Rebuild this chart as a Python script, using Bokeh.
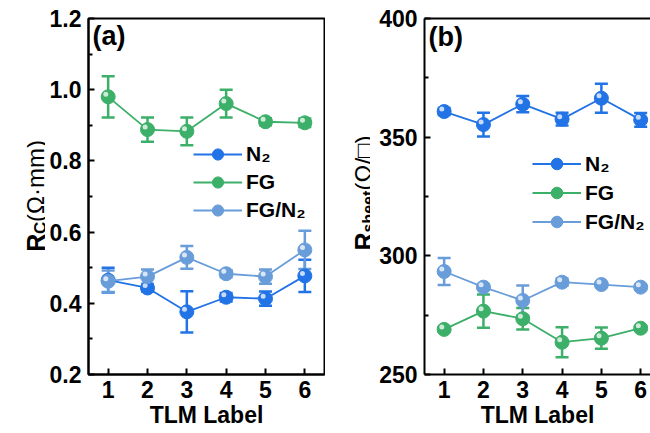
from math import pi

from bokeh.core.properties import value
from bokeh.embed import file_html
from bokeh.layouts import row
from bokeh.models import (ColumnDataSource, FixedTicker, Label, Legend, LegendItem,
                          LinearAxis, NumeralTickFormatter, TeeHead, Whisker)
from bokeh.plotting import figure
from bokeh.resources import INLINE
from bokeh.transform import dodge

# ---- data -----------------------------------------------------------------
tlm = [1, 2, 3, 4, 5, 6]

# contact resistance Rc (ohm*mm)
rc_n2 = [0.465, 0.443, 0.376, 0.417, 0.413, 0.477]
rc_n2_err = [0.035, 0.010, 0.058, 0.012, 0.020, 0.045]
rc_fg = [0.980, 0.888, 0.883, 0.961, 0.910, 0.907]
rc_fg_err = [0.058, 0.034, 0.039, 0.039, 0.010, 0.012]
rc_fgn2 = [0.462, 0.475, 0.529, 0.483, 0.475, 0.550]
rc_fgn2_err = [0.030, 0.020, 0.032, 0.010, 0.020, 0.054]

# sheet resistance (ohm/sq)
rs_n2 = [360.8, 355.3, 363.9, 357.6, 366.4, 357.3]
rs_n2_err = [1.5, 5.0, 3.4, 2.7, 6.1, 2.9]
rs_fg = [269.0, 276.7, 273.5, 263.6, 265.3, 269.5]
rs_fg_err = [1.0, 7.0, 4.5, 6.3, 4.5, 1.0]
rs_fgn2 = [293.4, 286.8, 281.2, 288.9, 287.9, 286.8]
rs_fgn2_err = [5.7, 1.0, 6.3, 1.5, 1.0, 1.0]

series_names = ["N\u2082", "FG", "FG/N\u2082"]
colors = ["#2173e6", "#3caf69", "#699dda"]

FONT = "Liberation Sans"


def style_axes(p, yticks, yminor, yfmt):
    xax = p.below[0]
    yax = p.left[0]
    xax.ticker = FixedTicker(ticks=tlm, minor_ticks=[])
    yax.ticker = FixedTicker(ticks=yticks, minor_ticks=yminor)
    yax.formatter = NumeralTickFormatter(format=yfmt)
    for ax in (xax, yax):
        ax.axis_line_width = 2
        ax.axis_line_color = "black"
        ax.major_tick_in = 6
        ax.major_tick_out = 0
        ax.minor_tick_in = 4
        ax.minor_tick_out = 0
        ax.major_tick_line_width = 2
        ax.minor_tick_line_width = 2
        ax.major_label_text_font = FONT
        ax.major_label_text_font_style = "bold"
        ax.major_label_text_font_size = "23px"
        ax.major_label_text_color = "black"
    yax.major_label_standoff = 7
    xax.major_label_standoff = 6
    xax.axis_label = "TLM Label"
    xax.axis_label_text_font = FONT
    xax.axis_label_text_font_style = "bold"
    xax.axis_label_text_font_size = "23px"
    xax.axis_label_text_color = "black"
    xax.axis_label_standoff = 1
    p.xgrid.visible = False
    p.ygrid.visible = False


def add_series(p, vals, errs, color, hl_dx, hl_dy):
    lower = [v - e for v, e in zip(vals, errs)]
    upper = [v + e for v, e in zip(vals, errs)]
    src = ColumnDataSource(dict(x=tlm, y=vals, lower=lower, upper=upper))
    wh = Whisker(base="x", lower="lower", upper="upper", source=src,
                 line_color=color, line_width=2.5,
                 upper_head=TeeHead(size=13, line_color=color, line_width=2.5),
                 lower_head=TeeHead(size=13, line_color=color, line_width=2.5))
    p.add_layout(wh)
    ln = p.line("x", "y", source=src, line_color=color, line_width=1.8)
    sc = p.scatter("x", "y", source=src, size=14, fill_color=color,
                   line_color=color, line_width=1)
    # small specular spot to give the markers a shaded look
    p.scatter(dodge("x", hl_dx), dodge("y", hl_dy), source=src, size=5,
              fill_color="white", fill_alpha=0.75, line_color=None)
    return [ln, sc]


def add_legend(p, renderer_sets, loc, gh):
    items = [LegendItem(label=n, renderers=r) for n, r in zip(series_names, renderer_sets)]
    lg = Legend(items=items, location=loc, border_line_color=None,
                background_fill_alpha=0, padding=0, margin=0, spacing=0,
                glyph_width=49, glyph_height=gh, label_height=gh, label_standoff=4,
                label_text_font=FONT, label_text_font_style="bold",
                label_text_font_size="21px", label_text_color="black")
    p.add_layout(lg)


def title_strip(width, border_bottom, frame_h, parts, use_label):
    """Narrow axis-free figure that carries a rotated, mixed-style y title.
    Its frame is measured in pixels so the pieces can be placed directly."""
    s = figure(width=width, height=433, x_range=(0, width), y_range=(0, frame_h),
               x_axis_type=None, y_axis_type=None, output_backend="svg",
               toolbar_location=None, min_border_left=0, min_border_right=0,
               min_border_top=18, min_border_bottom=border_bottom)
    s.outline_line_color = None
    s.xgrid.visible = False
    s.ygrid.visible = False
    for text, size, style, x, y in parts:
        if use_label:
            s.add_layout(Label(x=x, y=y, text=text, angle=90, angle_units="deg",
                               text_font=FONT, text_font_size=size, text_font_style=style,
                               text_color="black", text_align="left",
                               text_baseline="alphabetic"))
        else:
            s.text(x=[x], y=[y], text=[text], angle=90, angle_units="deg",
                   text_font=value(FONT), text_font_size=value(size),
                   text_font_style=style, text_color="black",
                   text_align="left", text_baseline="alphabetic")
    return s


# ---- panel (a): contact resistance ---------------------------------------
sa = title_strip(45, 58, 357, [("R", "25px", "bold", 35, 123),
                               ("C", "17px", "bold", 40, 141),
                               ("(\u03a9\u00b7mm)", "24px", "normal", 35, 153)], True)

pa = figure(width=280, height=433, x_range=(0.5, 6.5), y_range=(0.2, 1.2),
            output_backend="svg", toolbar_location=None,
            min_border_left=43, min_border_right=1, min_border_top=18,
            min_border_bottom=58)
pa.outline_line_color = "black"
pa.outline_line_width = 2
pa.outline_line_alpha = 1
style_axes(pa, [0.2, 0.4, 0.6, 0.8, 1.0, 1.2], [0.3, 0.5, 0.7, 0.9, 1.1], "0.0")

ra = [add_series(pa, v, e, c, -0.06, 0.007)
      for v, e, c in zip([rc_n2, rc_fg, rc_fgn2], [rc_n2_err, rc_fg_err, rc_fgn2_err], colors)]
add_legend(pa, ra, (105, 150), 28)
pa.add_layout(Label(x=4, y=324, x_units="screen", y_units="screen", text="(a)",
                    text_font=FONT, text_font_size="27px", text_font_style="bold",
                    text_color="black"))

# ---- panel (b): sheet resistance -----------------------------------------
sb = title_strip(45, 59, 356, [("R", "25px", "bold", 38, 124),
                               ("sheet", "16px", "bold", 43, 142),
                               (" (\u03a9/\u25a1)", "24px", "normal", 38, 184)], False)

pb = figure(width=280, height=433, x_range=(0.5, 6.25), y_range=(250, 400),
            output_backend="svg", toolbar_location=None,
            min_border_left=54, min_border_right=0, min_border_top=18,
            min_border_bottom=59)
pb.outline_line_color = None
style_axes(pb, [250, 300, 350, 400], [275, 325, 375], "0")
# plain top border line (the right side of this panel runs off the page)
top_axis = LinearAxis(ticker=FixedTicker(ticks=[]), major_label_text_font_size="0px",
                      axis_line_width=2, axis_line_color="black",
                      major_tick_in=0, major_tick_out=0, minor_tick_in=0, minor_tick_out=0,
                      major_label_standoff=0)
pb.add_layout(top_axis, "above")

rb = [add_series(pb, v, e, c, -0.06, 1.05)
      for v, e, c in zip([rs_n2, rs_fg, rs_fgn2], [rs_n2_err, rs_fg_err, rs_fgn2_err], colors)]
add_legend(pb, rb, (108, 138), 29)
pb.add_layout(Label(x=4, y=323, x_units="screen", y_units="screen", text="(b)",
                    text_font=FONT, text_font_size="27px", text_font_style="bold",
                    text_color="black"))

layout = row(sa, pa, sb, pb)
open("out.html", "w").write(file_html(layout, INLINE))
